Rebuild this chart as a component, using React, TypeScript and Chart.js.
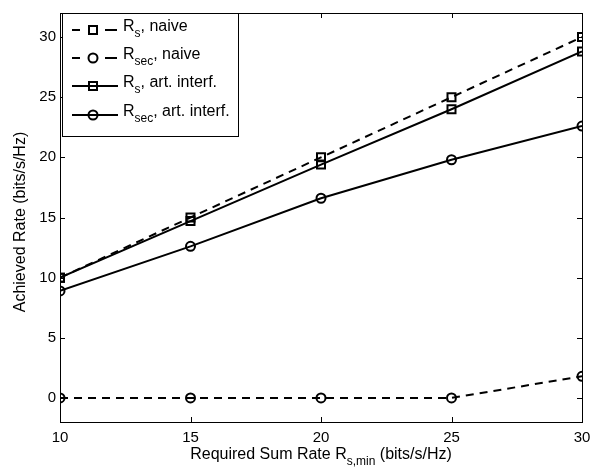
import React, { useEffect, useRef } from "react";
import { Chart, registerables } from "chart.js";

Chart.register(...registerables);

const xValues = [10, 15, 20, 25, 30];
const rsNaive = [10, 15, 20, 25, 30];
const rsecNaive = [0, 0, 0, 0, 1.8];
const rsArt = [10, 14.7, 19.4, 24.0, 28.8];
const rsecArt = [8.9, 12.6, 16.6, 19.8, 22.6];
const xTicks = [10, 15, 20, 25, 30];
const yTicks = [0, 5, 10, 15, 20, 25, 30];

const FONT = "'Liberation Sans', Arial, Helvetica, sans-serif";

type LegendItem = { main: string; sub: string; rest: string; dashed: boolean; marker: "rect" | "circle" };
const legendItems: LegendItem[] = [
  { main: "R", sub: "s", rest: ", naive", dashed: true, marker: "rect" },
  { main: "R", sub: "sec", rest: ", naive", dashed: true, marker: "circle" },
  { main: "R", sub: "s", rest: ", art. interf.", dashed: false, marker: "rect" },
  { main: "R", sub: "sec", rest: ", art. interf.", dashed: false, marker: "circle" },
];

function drawMarker(ctx: CanvasRenderingContext2D, kind: string, x: number, y: number) {
  ctx.save();
  ctx.setLineDash([]);
  ctx.lineWidth = 2;
  ctx.strokeStyle = "#000";
  ctx.beginPath();
  if (kind === "rect") {
    ctx.rect(x - 4, y - 4, 8, 8);
  } else {
    ctx.arc(x, y, 4.5, 0, Math.PI * 2);
  }
  ctx.stroke();
  ctx.restore();
}

function measureSub(ctx: CanvasRenderingContext2D, main: string, sub: string, rest: string, size: number, subSize: number) {
  ctx.font = `${size}px ${FONT}`;
  const a = ctx.measureText(main + rest).width;
  ctx.font = `${subSize}px ${FONT}`;
  return a + ctx.measureText(sub).width;
}

function drawSubText(ctx: CanvasRenderingContext2D, x: number, y: number, main: string, sub: string, rest: string, size: number, subSize: number) {
  ctx.textAlign = "left";
  ctx.textBaseline = "middle";
  ctx.font = `${size}px ${FONT}`;
  ctx.fillText(main, x, y);
  let cx = x + ctx.measureText(main).width;
  ctx.font = `${subSize}px ${FONT}`;
  ctx.fillText(sub, cx, y + size * 0.42);
  cx += ctx.measureText(sub).width;
  ctx.font = `${size}px ${FONT}`;
  ctx.fillText(rest, cx, y);
  return cx + ctx.measureText(rest).width;
}

const framePlugin = {
  id: "frame",
  afterDraw(chart: any) {
    const ctx: CanvasRenderingContext2D = chart.ctx;
    const { left, right, top, bottom } = chart.chartArea;
    const xs = chart.scales.x;
    const ys = chart.scales.y;
    ctx.save();
    ctx.strokeStyle = "#000";
    ctx.lineWidth = 1;
    ctx.setLineDash([]);
    const tl = 5;
    ctx.beginPath();
    for (const t of xTicks) {
      const px = Math.round(xs.getPixelForValue(t)) + 0.5;
      ctx.moveTo(px, bottom);
      ctx.lineTo(px, bottom - tl);
      ctx.moveTo(px, top);
      ctx.lineTo(px, top + tl);
    }
    for (const t of yTicks) {
      const py = Math.round(ys.getPixelForValue(t)) + 0.5;
      ctx.moveTo(left, py);
      ctx.lineTo(left + tl, py);
      ctx.moveTo(right, py);
      ctx.lineTo(right - tl, py);
    }
    ctx.stroke();
    ctx.strokeRect(Math.round(left) + 0.5, Math.round(top) + 0.5, Math.round(right - left), Math.round(bottom - top));

    // x title
    ctx.fillStyle = "#000";
    const p2 = " (bits/s/Hz)";
    const total = measureSub(ctx, "Required Sum Rate R", "s,min", p2, 16, 12);
    const cx = (left + right) / 2 - total / 2;
    drawSubText(ctx, cx, 455, "Required Sum Rate R", "s,min", p2, 16, 12);

    // y title
    ctx.save();
    ctx.translate(21, 222);
    ctx.rotate(-Math.PI / 2);
    ctx.font = `16px ${FONT}`;
    ctx.textAlign = "center";
    ctx.textBaseline = "middle";
    ctx.fillText("Achieved Rate (bits/s/Hz)", 0, 0);
    ctx.restore();

    // legend
    const lx = Math.round(left) + 2.5;
    const ly = Math.round(top) + 0.5;
    const lw = 176;
    const lh = 123;
    ctx.fillStyle = "#fff";
    ctx.fillRect(lx, ly, lw, lh);
    ctx.lineWidth = 1;
    ctx.strokeRect(lx, ly, lw, lh);
    const rowY = [30, 58, 86, 115];
    legendItems.forEach((it, i) => {
      const y = rowY[i];
      ctx.save();
      ctx.lineWidth = 2;
      ctx.strokeStyle = "#000";
      ctx.beginPath();
      if (it.dashed) {
        ctx.moveTo(72, y);
        ctx.lineTo(80, y);
        ctx.moveTo(105, y);
        ctx.lineTo(117, y);
      } else {
        ctx.moveTo(72, y);
        ctx.lineTo(118, y);
      }
      ctx.stroke();
      ctx.restore();
      drawMarker(ctx, it.marker, 93, y);
      ctx.fillStyle = "#000";
      drawSubText(ctx, 123, y - 3, it.main, it.sub, it.rest, 16, 12);
    });
    ctx.restore();
  },
};

export default function App() {
  const ref = useRef<HTMLCanvasElement | null>(null);
  useEffect(() => {
    if (!ref.current) return;
    const mk = (label: string, data: number[], dashed: boolean, marker: string) => ({
      label,
      data: xValues.map((x, i) => ({ x, y: data[i] })),
      borderColor: "#000",
      backgroundColor: "rgba(0,0,0,0)",
      borderWidth: 2,
      borderDash: dashed ? [8, 6] : [],
      pointStyle: marker,
      pointRadius: marker === "rect" ? 5.66 : 4.5,
      pointBorderWidth: 2,
      pointBorderColor: "#000",
      pointBackgroundColor: "rgba(0,0,0,0)",
      tension: 0,
    });
    const chart = new Chart(ref.current, {
      type: "line",
      data: {
        datasets: [
          mk("Rs naive", rsNaive, true, "rect"),
          mk("Rsec naive", rsecNaive, true, "circle"),
          mk("Rs art", rsArt, false, "rect"),
          mk("Rsec art", rsecArt, false, "circle"),
        ],
      },
      options: {
        animation: false,
        responsive: false,
        maintainAspectRatio: false,
        devicePixelRatio: 1,
        layout: { padding: { top: 12, right: 29, left: 0, bottom: 0 } },
        plugins: { legend: { display: false }, tooltip: { enabled: false } },
        scales: {
          x: {
            type: "linear",
            min: 10,
            max: 30,
            afterBuildTicks: (s: any) => {
              s.ticks = xTicks.map((v) => ({ value: v }));
            },
            afterFit: (s: any) => {
              s.height = 46;
            },
            grid: { display: false, drawTicks: false },
            border: { display: false },
            ticks: { color: "#000", font: { family: FONT, size: 15 }, padding: 7, maxRotation: 0 },
          },
          y: {
            type: "linear",
            min: -2,
            max: 32,
            afterBuildTicks: (s: any) => {
              s.ticks = yTicks.map((v) => ({ value: v }));
            },
            afterFit: (s: any) => {
              s.width = 60;
            },
            grid: { display: false, drawTicks: false },
            border: { display: false },
            ticks: { color: "#000", font: { family: FONT, size: 15 }, padding: 4 },
          },
        },
      },
      plugins: [framePlugin],
    });
    return () => chart.destroy();
  }, []);
  return (
    <div style={{ position: "absolute", left: 0, top: 0, width: 611, height: 468, background: "#fff" }}>
      <canvas ref={ref} width={611} height={468} style={{ width: 611, height: 468 }} />
    </div>
  );
}
